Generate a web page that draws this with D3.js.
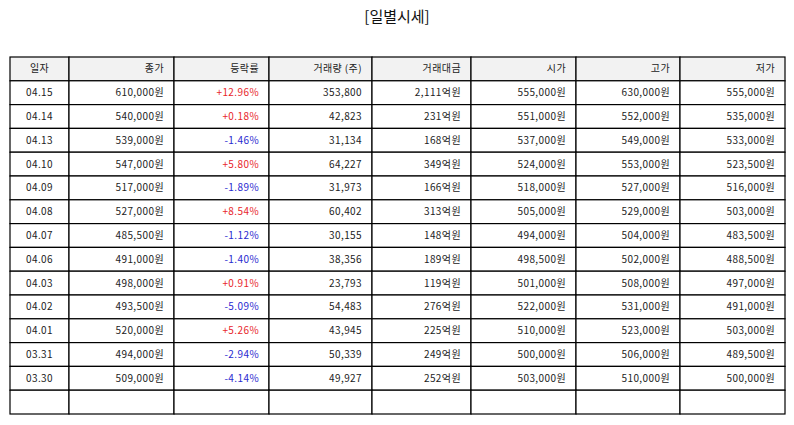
<!DOCTYPE html>
<html><head><meta charset="utf-8">
<script src="https://cdn.jsdelivr.net/npm/d3@7"></script>
<style>body{margin:0;background:#fff}</style>
</head><body><div class="canvas"></div>
<script>
const headers = ['일자','종가','등락률','거래량 (주)','거래대금','시가','고가','저가'];
const dates = ['04.15','04.14','04.13','04.10','04.09','04.08','04.07','04.06','04.03','04.02','04.01','03.31','03.30'];
const close = [610000,540000,539000,547000,517000,527000,485500,491000,498000,493500,520000,494000,509000];
const change = [12.96,0.18,-1.46,5.80,-1.89,8.54,-1.12,-1.40,0.91,-5.09,5.26,-2.94,-4.14];
const volume = [353800,42823,31134,64227,31973,60402,30155,38356,23793,54483,43945,50339,49927];
const amount = [2111,231,168,349,166,313,148,189,119,276,225,249,252];
const open = [555000,551000,537000,524000,518000,505000,494000,498500,501000,522000,510000,500000,503000];
const high = [630000,552000,549000,553000,527000,529000,504000,502000,508000,531000,523000,506000,510000];
const low = [555000,535000,533000,523500,516000,503000,483500,488500,497000,491000,503000,489500,500000];

const W = 794, H = 425;
const colEdges = [10,69,174,269,372,471,576,680,785];
const fmt = d3.format(',');
const won = v => fmt(v) + '원';

const rows = dates.map((d,i) => [
  {t:d}, {t:won(close[i])},
  {t:(change[i] > 0 ? '+' : '') + change[i].toFixed(2) + '%', c: change[i] > 0 ? '#e8262b' : '#2a2ad0'},
  {t:fmt(volume[i])}, {t:fmt(amount[i]) + '억원'},
  {t:won(open[i])}, {t:won(high[i])}, {t:won(low[i])}
]);
rows.push(headers.map(() => ({t:''})));

const svg = d3.select('.canvas').append('svg').attr('width',W).attr('height',H)
  .style('font-family','"Noto Sans CJK KR", sans-serif');

svg.append('text').attr('x',W/2).attr('y',22).attr('text-anchor','middle')
  .attr('font-size',15).attr('fill','#111').text('[일별시세]');

const y = d3.scaleBand().domain(d3.range(rows.length + 1)).range([57,414]);

const g = svg.append('g').attr('letter-spacing',0.4);
// header
headers.forEach((h,j) => {
  const x0 = colEdges[j], x1 = colEdges[j+1];
  g.append('rect').attr('x',x0).attr('y',y(0)).attr('width',x1-x0).attr('height',y.bandwidth())
    .attr('fill','#f2f2f2').attr('stroke','#000').attr('stroke-width',1.2);
  g.append('text').attr('x', j === 0 ? (x0+x1)/2 : x1-10).attr('y',y(0)+y.bandwidth()/2)
    .attr('dy','0.35em').attr('text-anchor', j === 0 ? 'middle' : 'end')
    .attr('font-size',10).attr('fill','#222').text(h);
});
rows.forEach((r,i) => {
  r.forEach((cell,j) => {
    const x0 = colEdges[j], x1 = colEdges[j+1];
    g.append('rect').attr('x',x0).attr('y',y(i+1)).attr('width',x1-x0).attr('height',y.bandwidth())
      .attr('fill','#fff').attr('stroke','#000').attr('stroke-width',1.2);
    g.append('text').attr('x', j === 0 ? (x0+x1)/2 : x1-10).attr('y',y(i+1)+y.bandwidth()/2)
      .attr('dy','0.35em').attr('text-anchor', j === 0 ? 'middle' : 'end')
      .attr('font-size',10).attr('fill',cell.c || '#222').text(cell.t);
  });
});
</script></body></html>
